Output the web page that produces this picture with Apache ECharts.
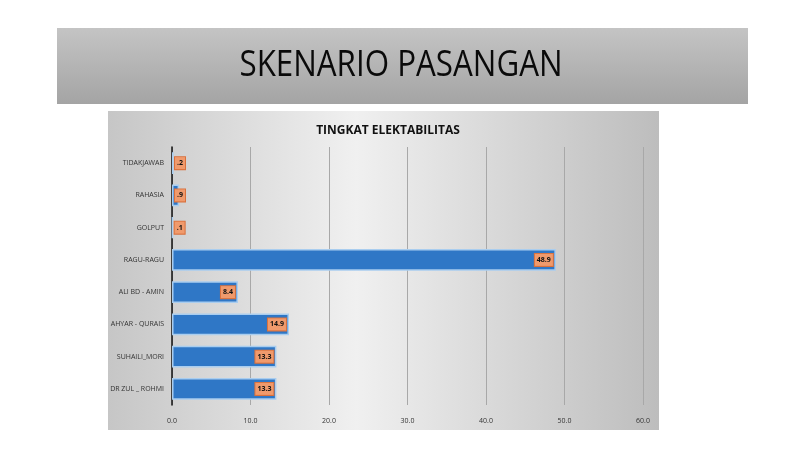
<!DOCTYPE html>
<html><head><meta charset="utf-8">
<script src="https://cdn.jsdelivr.net/npm/echarts@6/dist/echarts.min.js"></script>
<style>html,body{margin:0;padding:0;background:#fff}#c{width:800px;height:450px}</style>
</head><body><div id="c"></div>
<script>
const categories = ['DR ZUL _ ROHMI','SUHAILI_MORI','AHYAR - QURAIS','ALI BD - AMIN','RAGU-RAGU','GOLPUT','RAHASIA','TIDAKJAWAB'];
const values = [13.3, 13.3, 14.9, 8.4, 48.9, 0.1, 0.9, 0.2];
const xTicks = [0, 10, 20, 30, 40, 50, 60];

const barData = values.map(v => v < 2
  ? { value: v, label: { position: 'insideLeft', distance: 3 } }
  : { value: v });

const chart = echarts.init(document.getElementById('c'));
chart.setOption({
  animation: false,
  graphic: [
    { type: 'rect', left: 57, top: 28, shape: { width: 691, height: 76 },
      style: { fill: new echarts.graphic.LinearGradient(0,0,0,1,[{offset:0,color:'#c4c4c4'},{offset:1,color:'#a4a4a4'}]) }, z: -10 },
    { type: 'text', x: 401, y: 66, scaleX: 0.87, originX: 0, originY: 0,
      style: { text: 'SKENARIO PASANGAN', font: '36px "Open Sans", sans-serif', fill: '#0a0a0a', align: 'center', verticalAlign: 'middle' }, z: 10 },
    { type: 'rect', left: 108, top: 111, shape: { width: 551, height: 319 },
      style: { fill: new echarts.graphic.LinearGradient(0,0,1,0,[{offset:0,color:'#c6c6c6'},{offset:0.45,color:'#f0f0f0'},{offset:1,color:'#bdbdbd'}]) }, z: -10 }
  ],
  title: { text: 'TINGKAT ELEKTABILITAS', left: 383, top: 120, textAlign: 'center',
    textStyle: { fontSize: 12, fontWeight: 'bold', color: '#111', fontFamily: 'Open Sans' } },
  grid: { left: 172, right: 157, top: 147, bottom: 45 },
  xAxis: { type: 'value', min: xTicks[0], max: xTicks[xTicks.length-1], interval: 10,
    axisLine: { show: false }, axisTick: { show: false },
    axisLabel: { formatter: v => v.toFixed(1), fontSize: 7, color: '#333', margin: 12, fontFamily: 'Open Sans' },
    splitLine: { lineStyle: { color: '#a8a8a8', width: 1 } } },
  yAxis: { type: 'category', data: categories,
    axisLine: { lineStyle: { color: '#111', width: 1.5 } }, axisTick: { show: false },
    axisLabel: { fontSize: 7, color: '#333', margin: 8, fontFamily: 'Open Sans' } },
  series: [{
    type: 'bar', data: barData, barWidth: '68%',
    itemStyle: { color: '#2f77c6', borderColor: '#a9cdef', borderWidth: 1.5 },
    label: { show: true, position: 'insideRight', distance: 3,
      formatter: p => { const s = p.value.toFixed(1); return s.startsWith('0') ? s.slice(1) : s; },
      fontSize: 7, fontWeight: 'bold', color: '#111', backgroundColor: '#f09a6c',
      borderColor: '#d9703c', borderWidth: 1, padding: [3, 2, 2, 2], fontFamily: 'Open Sans' }
  }]
});
</script></body></html>
